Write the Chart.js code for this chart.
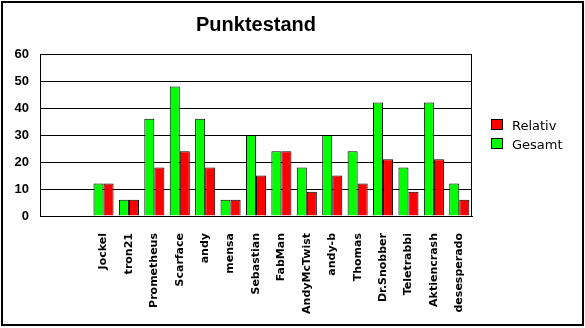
<!DOCTYPE html>
<html>
<head>
<meta charset="utf-8">
<script src="https://cdn.jsdelivr.net/npm/chart.js@4"></script>
<style>
    body { margin: 0; background: #fff; }
    #wrap { position: relative; width: 585px; height: 328px; }
</style>
</head>
<body>
<div id="wrap"><canvas id="myChart" width="585" height="328"></canvas></div>
<script>
// two empty slots at the start, like the original
const spieler = ['', '', 'Jockel', 'tron21', 'Prometheus', 'Scarface', 'andy', 'mensa', 'Sebastian',
    'FabMan', 'AndyMcTwist', 'andy-b', 'Thomas', 'Dr.Snobber', 'Teletrabbi', 'Aktiencrash', 'desesperado'];
const gesamt = [null, null, 12, 6, 36, 48, 36, 6, 30, 24, 18, 30, 24, 42, 18, 42, 12];
const relativ = [null, null, 12, 6, 18, 24, 18, 6, 15, 24, 9, 15, 12, 21, 9, 21, 6];
const yTicks = [0, 10, 20, 30, 40, 50, 60];
const titel = 'Punktestand';

// title, legend and frames
const extras = {
    id: 'extras',
    afterDraw: function (chart) {
        const ctx = chart.ctx;
        const a = chart.chartArea;
        ctx.save();
        ctx.strokeStyle = '#000';
        ctx.lineWidth = 1;
        ctx.strokeRect(a.left + 0.5, a.top + 0.5, a.right - a.left - 1, a.bottom - a.top);
        ctx.lineWidth = 2;
        ctx.strokeRect(2, 2, 581, 323);

        ctx.fillStyle = '#000';
        ctx.font = 'bold 20px "Liberation Sans", Arial';
        ctx.textAlign = 'center';
        ctx.textBaseline = 'alphabetic';
        ctx.fillText(titel, (a.left + a.right) / 2, 31);

        // legend: reversed order (Relativ on top)
        const ds = chart.data.datasets.slice().reverse();
        ctx.font = '13px "DejaVu Sans"';
        ctx.textAlign = 'left';
        ds.forEach(function (d, i) {
            const y = 119 + i * 19;
            ctx.fillStyle = d.backgroundColor;
            ctx.fillRect(491, y, 12, 11);
            ctx.lineWidth = 1;
            ctx.strokeStyle = '#000';
            ctx.strokeRect(491.5, y + 0.5, 11, 10);
            ctx.fillStyle = '#000';
            ctx.fillText(d.label, 512, y + 11);
        });
        ctx.restore();
    }
};

new Chart(document.getElementById('myChart'), {
    type: 'bar',
    data: {
        labels: spieler,
        datasets: [{
            label: 'Gesamt',
            data: gesamt,
            backgroundColor: '#00ff00',
            borderColor: '#000',
            borderWidth: 1
        }, {
            label: 'Relativ',
            data: relativ,
            backgroundColor: '#ff0000',
            borderColor: '#000',
            borderWidth: 1
        }]
    },
    options: {
        responsive: false,
        animation: false,
        layout: { padding: { top: 54, right: 113, left: 0, bottom: 0 } },
        datasets: { bar: { categoryPercentage: 0.79, barPercentage: 1.0 } },
        plugins: {
            legend: { display: false },
            title: { display: false },
            tooltip: { enabled: false }
        },
        scales: {
            x: {
                grid: { display: false },
                border: { color: '#000', width: 1 },
                ticks: {
                    color: '#000',
                    minRotation: 90,
                    maxRotation: 90,
                    autoSkip: false,
                    padding: 9,
                    font: { family: '"DejaVu Sans"', size: 11, weight: 'bold' }
                },
                afterFit: function (scale) { scale.height = 112; }
            },
            y: {
                min: 0,
                max: 60,
                afterBuildTicks: function (scale) {
                    scale.ticks = yTicks.map(function (v) { return { value: v }; });
                },
                grid: { color: '#000', drawTicks: false },
                border: { color: '#000', width: 1 },
                ticks: {
                    color: '#000',
                    padding: 11,
                    font: { family: '"Liberation Sans"', size: 13, weight: 'bold' }
                },
                afterFit: function (scale) { scale.width = 40; }
            }
        }
    },
    plugins: [extras]
});
</script>
</body>
</html>
